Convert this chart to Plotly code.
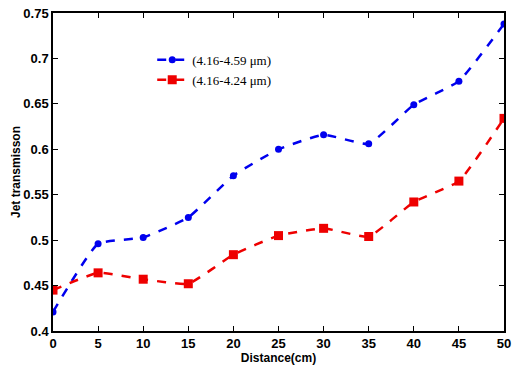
import plotly.graph_objects as go

distance = [0, 5, 10, 15, 20, 25, 30, 35, 40, 45, 50]
blue_vals = [0.421, 0.496, 0.503, 0.525, 0.571, 0.600, 0.616, 0.606, 0.649, 0.675, 0.738]
red_vals = [0.445, 0.464, 0.457, 0.452, 0.484, 0.505, 0.513, 0.504, 0.542, 0.565, 0.634]
blue_name = "(4.16-4.59 μm)"
red_name = "(4.16-4.24 μm)"
x_ticks = [0, 5, 10, 15, 20, 25, 30, 35, 40, 45, 50]
y_ticks = [0.4, 0.45, 0.5, 0.55, 0.6, 0.65, 0.7, 0.75]

fig = go.Figure()
fig.add_trace(go.Scatter(
    x=distance, y=blue_vals, name=blue_name, mode="lines+markers",
    line=dict(color="#0000ee", width=2.5, dash="dash", shape="spline", smoothing=0.4),
    marker=dict(symbol="circle", size=7, color="#0000ee"),
))
fig.add_trace(go.Scatter(
    x=distance, y=red_vals, name=red_name, mode="lines+markers",
    line=dict(color="#ee0000", width=2.5, dash="dash", shape="spline", smoothing=0.4),
    marker=dict(symbol="square", size=9, color="#ee0000"),
))

tick_font = dict(family="Liberation Sans", size=13, color="black")
title_font = dict(family="Liberation Sans", size=12, color="black")
axis_common = dict(
    showgrid=False, zeroline=False, showline=True, linecolor="#000000", linewidth=1.5,
    mirror="ticks", ticks="inside", ticklen=5, tickcolor="#000000", tickwidth=1.2,
    automargin=False, tickfont=tick_font,
)
fig.update_xaxes(range=[0, 50], tickvals=x_ticks, ticktext=[f"<b>{v}</b>" for v in x_ticks],
                 title=dict(text="<b>Distance(cm)</b>", standoff=2, font=title_font),
                 **axis_common)
fig.update_yaxes(range=[0.4, 0.75], tickvals=y_ticks, ticktext=[f"<b>{v:g}</b>" for v in y_ticks],
                 title=dict(text="<b>Jet transmisson</b>", standoff=0, font=title_font),
                 **axis_common)

fig.update_layout(
    template="none",
    width=516, height=368,
    margin=dict(l=53, r=12, t=13, b=37),
    paper_bgcolor="white", plot_bgcolor="white",
    showlegend=True,
    legend=dict(x=0.22, y=0.9, xanchor="left", yanchor="top",
                bgcolor="rgba(0,0,0,0)", borderwidth=0,
                font=dict(family="Liberation Serif", size=13, color="black"),
                tracegroupgap=0, itemwidth=30),
)

fig.write_html("out.html", config={"displayModeBar": False},
               post_script="document.body.style.margin='0';document.body.style.padding='0';")
